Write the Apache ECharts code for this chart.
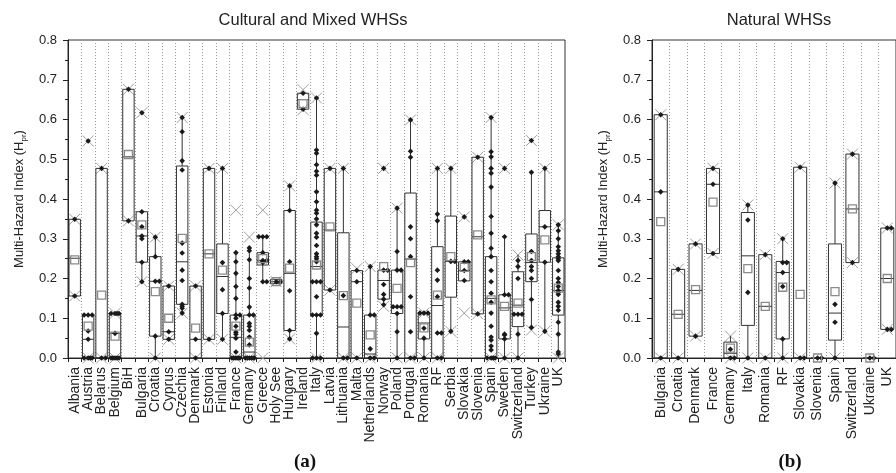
<!DOCTYPE html>
<html>
<head>
<meta charset="utf-8">
<script src="https://cdn.jsdelivr.net/npm/echarts@6/dist/echarts.min.js"></script>
<style>
  html, body { margin: 0; background: #fff; }
  #chart { width: 896px; height: 473px; }
</style>
</head>
<body>
<div id="chart"></div>
<script>
// (a) Cultural and Mixed WHSs
const countriesA = ['Albania', 'Austria', 'Belarus', 'Belgium', 'BiH', 'Bulgaria', 'Croatia', 'Cyprus', 'Czechia',
  'Denmark', 'Estonia', 'Finland', 'France', 'Germany', 'Greece', 'Holy See', 'Hungary', 'Ireland', 'Italy', 'Latvia',
  'Lithuania', 'Malta', 'Netherlands', 'Norway', 'Poland', 'Portugal', 'Romania', 'RF', 'Serbia', 'Slovakia',
  'Slovenia', 'Spain', 'Sweden', 'Switzerland', 'Turkey', 'Ukraine', 'UK'];
const q1A = [0.156, 0, 0, 0, 0.345, 0.241, 0.055, 0.047, 0.135, 0, 0.047, 0.112, 0, 0, 0.234, 0.187, 0.069, 0.626, 0.108,
  0.171, 0, 0, 0, 0.148, 0.112, 0, 0.048, 0, 0.153, 0.194, 0.111, 0, 0.048, 0.079, 0.192, 0.241, 0.108];
const medA = [0.251, 0.047, 0, 0.062, 0.506, 0.307, 0.193, 0.066, 0.242, 0.047, 0.262, 0.205, 0.052, 0.015, 0.245, 0.192,
  0.213, 0.65, 0.23, 0.322, 0.078, 0.192, 0.01, 0.195, 0.129, 0.249, 0.088, 0.132, 0.243, 0.22, 0.305, 0.15, 0.126,
  0.133, 0.24, 0.33, 0.17];
const q3A = [0.349, 0.108, 0.477, 0.112, 0.676, 0.368, 0.255, 0.181, 0.483, 0.181, 0.477, 0.287, 0.108, 0.108, 0.265,
  0.198, 0.371, 0.666, 0.342, 0.477, 0.315, 0.22, 0.108, 0.221, 0.221, 0.415, 0.113, 0.28, 0.357, 0.242, 0.505, 0.255,
  0.159, 0.217, 0.312, 0.371, 0.252];
const meanA = [0.247, 0.08, 0.158, 0.055, 0.512, 0.335, 0.167, 0.1, 0.301, 0.075, 0.262, 0.221, 0.08, 0.04, 0.25, 0.192,
  0.226, 0.64, 0.234, 0.33, 0.157, 0.138, 0.058, 0.23, 0.175, 0.24, 0.076, 0.158, 0.255, 0.228, 0.31, 0.146, 0.13,
  0.138, 0.255, 0.297, 0.176];
const whiskLoA = [0.156, 0, 0, 0, 0.345, 0.192, 0, 0.047, 0.113, 0, 0.047, 0.047, 0, 0, 0.192, 0.187, 0.048, 0.626, 0,
  0.171, 0, 0, 0, 0.134, 0, 0, 0, 0, 0.067, 0.194, 0.111, 0, 0, 0, 0.07, 0.067, 0];
const whiskHiA = [0.349, 0.108, 0.477, 0.112, 0.676, 0.368, 0.304, 0.181, 0.605, 0.181, 0.477, 0.477, 0.265, 0.277,
  0.305, 0.198, 0.433, 0.666, 0.654, 0.477, 0.477, 0.22, 0.23, 0.221, 0.377, 0.599, 0.113, 0.477, 0.477, 0.242, 0.505,
  0.605, 0.305, 0.259, 0.47, 0.477, 0.335];
const extLoA = [0.156, 0, 0, 0, 0.345, 0.192, 0, 0.047, 0.113, 0, 0.047, 0.047, 0, 0, 0, 0.192, 0.048, 0.625, 0, 0.171,
  0, 0, 0, 0.13, 0, 0, 0, 0, 0.067, 0.113, 0.111, 0, 0, 0, 0.07, 0.067, 0];
const extHiA = [0.349, 0.546, 0.477, 0.112, 0.676, 0.617, 0.304, 0.181, 0.605, 0.181, 0.477, 0.477, 0.372, 0.304, 0.372,
  0.192, 0.433, 0.675, 0.654, 0.477, 0.477, 0.225, 0.23, 0.477, 0.377, 0.599, 0.113, 0.477, 0.477, 0.355, 0.505, 0.605,
  0.477, 0.259, 0.547, 0.477, 0.335];
const pointsA = [
  [0.349, 0.156],
  [0.546, 0.108, 0.108, 0.108, 0.068, 0.047, 0, 0, 0, 0],
  [0.477, 0, 0],
  [0.112, 0.112, 0.112, 0.112, 0.062, 0, 0, 0, 0, 0],
  [0.676, 0.345],
  [0.617, 0.368, 0.33, 0.307, 0.3, 0.241, 0.192],
  [0.304, 0.255, 0.193, 0.193, 0.055, 0],
  [0.181, 0.066, 0.047],
  [0.605, 0.569, 0.496, 0.473, 0.289, 0.264, 0.221, 0.195, 0.135, 0.13, 0.125, 0.113],
  [0.181, 0.047, 0],
  [0.477, 0.047],
  [0.477, 0.24, 0.172, 0.112, 0.047],
  [0.265, 0.242, 0.213, 0.18, 0.15, 0.108, 0.108, 0.1, 0.08, 0.065, 0.06, 0.05, 0.015, 0, 0, 0, 0, 0],
  [0.277, 0.27, 0.247, 0.2, 0.176, 0.128, 0.108, 0.108, 0.087, 0.08, 0.07, 0.053, 0.033, 0, 0, 0, 0, 0, 0],
  [0.305, 0.305, 0.305, 0.265, 0.245, 0.245, 0.242, 0.24, 0.192, 0.192],
  [0.192, 0.192],
  [0.433, 0.371, 0.242, 0.169, 0.069, 0.048],
  [0.666, 0.626],
  [0.654, 0.523, 0.515, 0.486, 0.47, 0.46, 0.418, 0.393, 0.372, 0.364, 0.35, 0.335, 0.314, 0.304, 0.283, 0.262, 0.255,
    0.25, 0.242, 0.192, 0.192, 0.192, 0.154, 0.108, 0.108, 0.108, 0.062, 0, 0, 0],
  [0.477, 0.171],
  [0.477, 0.157, 0, 0],
  [0.22, 0.192, 0],
  [0.23, 0.108, 0.108, 0.023, 0, 0],
  [0.477, 0.221, 0.221, 0.185, 0.16, 0.148, 0.134],
  [0.377, 0.268, 0.221, 0.221, 0.129, 0.129, 0.129, 0.112, 0.066, 0],
  [0.599, 0.52, 0.505, 0.33, 0.3, 0.255, 0.154, 0.066, 0, 0],
  [0.113, 0.113, 0.113, 0.075, 0.05, 0],
  [0.477, 0.362, 0.345, 0.221, 0.196, 0.154, 0.063, 0.063, 0, 0],
  [0.477, 0.243, 0.243, 0.067],
  [0.355, 0.242, 0.242, 0.22, 0.195],
  [0.505, 0.111],
  [0.605, 0.519, 0.506, 0.477, 0.465, 0.43, 0.356, 0.314, 0.276, 0.255, 0.22, 0.192, 0.163, 0.14, 0.113, 0.08, 0.053,
    0.045, 0.03, 0.02, 0, 0, 0, 0],
  [0.477, 0.305, 0.159, 0.159, 0.06, 0.058, 0.048, 0],
  [0.245, 0.23, 0.2, 0.11, 0.11, 0.11, 0.06, 0],
  [0.547, 0.467, 0.268, 0.245, 0.23, 0.22, 0.2, 0.147, 0.077],
  [0.477, 0.33, 0.241, 0.067],
  [0.335, 0.32, 0.3, 0.28, 0.27, 0.262, 0.255, 0.25, 0.245, 0.22, 0.2, 0.19, 0.18, 0.17, 0.165, 0.16, 0.14, 0.13, 0.12,
    0.09, 0.06, 0.015, 0.01]
];

// (b) Natural WHSs
const countriesB = ['Bulgaria', 'Croatia', 'Denmark', 'France', 'Germany', 'Italy', 'Romania', 'RF', 'Slovakia',
  'Slovenia', 'Spain', 'Switzerland', 'Ukraine', 'UK'];
const q1B = [0, 0, 0.055, 0.263, 0, 0.082, 0, 0.048, 0, 0, 0.045, 0.24, 0, 0.072];
const medB = [0.418, 0.11, 0.17, 0.437, 0.012, 0.257, 0.13, 0.215, 0, 0, 0.113, 0.375, 0, 0.2];
const q3B = [0.612, 0.223, 0.287, 0.477, 0.04, 0.366, 0.26, 0.243, 0.48, 0, 0.287, 0.513, 0, 0.327];
const meanB = [0.343, 0.11, 0.172, 0.392, 0.025, 0.225, 0.13, 0.178, 0.16, 0, 0.167, 0.375, 0, 0.2];
const whiskLoB = [0, 0, 0.055, 0.263, 0, 0, 0, 0, 0, 0, 0, 0.24, 0, 0.072];
const whiskHiB = [0.612, 0.223, 0.287, 0.477, 0.055, 0.385, 0.26, 0.3, 0.48, 0, 0.44, 0.513, 0, 0.327];
const extLoB = [0, 0, 0.055, 0.263, 0, 0, 0, 0, 0, null, 0, 0.24, null, 0.072];
const extHiB = [0.612, 0.223, 0.287, 0.477, 0.055, 0.385, 0.26, 0.3, 0.48, null, 0.44, 0.513, null, 0.327];
const pointsB = [
  [0.612, 0.418, 0], [0.223, 0], [0.287, 0.055], [0.477, 0.437, 0.263], [0.022, 0, 0], [0.385, 0.347, 0.165, 0],
  [0.26, 0], [0.3, 0.24, 0.24, 0.215, 0.18, 0.048, 0], [0.48, 0, 0], [0, 0], [0.44, 0.135, 0.09, 0], [0.513, 0.24],
  [0, 0], [0.327, 0.327, 0.072, 0.072]
];

const yTicks = [0, 0.1, 0.2, 0.3, 0.4, 0.5, 0.6, 0.7, 0.8];

const chart = echarts.init(document.getElementById('chart'));

// build series data
let boxData = (q1, med, q3, lo, hi) => q1.map((v, i) => [i, v, med[i], q3[i], lo[i], hi[i]]);
let extData = (lo, hi) => {
  let out = [];
  lo.forEach((v, i) => {
    if (v !== null) out.push([i, v]);
    if (hi[i] !== null && hi[i] !== v) out.push([i, hi[i]]);
  });
  return out;
};
// repeated values get nudged sideways so they don't stack on one spot
let pointData = (pts) => {
  let out = [];
  pts.forEach((list, i) => {
    let seen = {};
    list.forEach(v => {
      let k = seen[v] || 0;
      seen[v] = k + 1;
      out.push([i, v, k]);
    });
  });
  return out;
};
const spread = [0, 4, -4, 2, -2, 5, -5, 1, -1, 3, -3, 0];

let renderBox = (frac) => (params, api) => {
  let c = api.value(0);
  let pLo = api.coord([c, api.value(1)]);
  let pMed = api.coord([c, api.value(2)]);
  let pHi = api.coord([c, api.value(3)]);
  let pWl = api.coord([c, api.value(4)]);
  let pWh = api.coord([c, api.value(5)]);
  let w = api.size([1, 0])[0] * frac;
  let x = pLo[0] - w / 2;
  let st = {stroke: '#333', fill: 'none', lineWidth: 1};
  return {
    type: 'group',
    children: [
      {type: 'line', shape: {x1: pLo[0], y1: pHi[1], x2: pLo[0], y2: pWh[1]}, style: st},
      {type: 'line', shape: {x1: pLo[0], y1: pLo[1], x2: pLo[0], y2: pWl[1]}, style: st},
      {type: 'rect', shape: {x: x, y: pHi[1], width: w, height: Math.max(pLo[1] - pHi[1], 0.5)}, style: st},
      {type: 'line', shape: {x1: x, y1: pMed[1], x2: x + w, y2: pMed[1]}, style: st}
    ]
  };
};

let renderCross = (params, api) => {
  let p = api.coord([api.value(0), api.value(1)]);
  let r = 5.5;
  return {
    type: 'group',
    children: [
      {type: 'line', shape: {x1: p[0] - r, y1: p[1] - r, x2: p[0] + r, y2: p[1] + r}, style: {stroke: '#a0a0a0', lineWidth: 1}},
      {type: 'line', shape: {x1: p[0] - r, y1: p[1] + r, x2: p[0] + r, y2: p[1] - r}, style: {stroke: '#a0a0a0', lineWidth: 1}}
    ]
  };
};

let renderMean = (params, api) => {
  let p = api.coord([api.value(0), api.value(1)]);
  return {
    type: 'rect',
    shape: {x: p[0] - 4, y: p[1] - 4, width: 8, height: 8},
    style: {stroke: '#8a8a8a', fill: 'none', lineWidth: 1.3}
  };
};

let renderPoint = (params, api) => {
  let p = api.coord([api.value(0), api.value(1)]);
  let dx = spread[api.value(2) % spread.length];
  let x = p[0] + dx, y = p[1], r = 2.8;
  return {
    type: 'polygon',
    shape: {points: [[x, y - r], [x + r, y], [x, y + r], [x - r, y]]},
    style: {fill: '#1a1a1a'}
  };
};

let yAxisCommon = {
  type: 'value',
  min: 0,
  max: 0.8,
  interval: 0.1,
  name: '{a|Multi-Hazard Index (H}{s|pr}{a|)}',
  nameLocation: 'middle',
  nameRotate: 90,
  nameGap: 41,
  nameTextStyle: {
    rich: {
      a: {fontSize: 13, color: '#222', fontFamily: 'Liberation Sans', lineHeight: 16},
      s: {fontSize: 8, color: '#222', fontFamily: 'Liberation Sans', lineHeight: 16, padding: [9, 0, 0, 0]}
    }
  },
  axisLine: {show: true, lineStyle: {color: '#222'}},
  axisTick: {show: true, length: 5, lineStyle: {color: '#222'}},
  minorTick: {show: true, splitNumber: 2, length: 3, lineStyle: {color: '#222'}},
  splitLine: {show: false},
  axisLabel: {
    fontSize: 13, color: '#222', fontFamily: 'Liberation Sans', margin: 11,
    formatter: (v) => yTicks.includes(Math.round(v * 10) / 10) ? v.toFixed(1) : ''
  }
};

let xAxisCommon = {
  type: 'category',
  axisLine: {lineStyle: {color: '#222'}},
  axisTick: {show: true, length: 4, lineStyle: {color: '#222'}},
  splitLine: {show: true, lineStyle: {color: '#999', type: [1, 2]}},
  axisLabel: {interval: 0, rotate: 90, fontSize: 14, color: '#222', fontFamily: 'Liberation Sans', margin: 9}
};

let option = {
  animation: false,
  backgroundColor: '#fff',
  grid: [
    {left: 68, top: 40, width: 497, height: 318, show: true, borderColor: '#333', borderWidth: 1},
    {left: 652, top: 40, width: 246, height: 318, show: true, borderColor: '#333', borderWidth: 1}
  ],
  xAxis: [
    Object.assign({}, xAxisCommon, {gridIndex: 0, data: countriesA}),
    Object.assign({}, xAxisCommon, {gridIndex: 1, data: countriesB})
  ],
  yAxis: [
    Object.assign({}, yAxisCommon, {gridIndex: 0}),
    Object.assign({}, yAxisCommon, {gridIndex: 1})
  ],
  graphic: [
    {type: 'text', x: 313, y: 20, style: {text: 'Cultural and Mixed WHSs', font: '16.5px "Liberation Sans"', fill: '#222', align: 'center', verticalAlign: 'middle'}},
    {type: 'text', x: 779, y: 20, style: {text: 'Natural WHSs', font: '16.5px "Liberation Sans"', fill: '#222', align: 'center', verticalAlign: 'middle'}},
    {type: 'text', x: 305, y: 462, style: {text: '(a)', font: 'bold 19px "Liberation Serif"', fill: '#111', align: 'center', verticalAlign: 'middle'}},
    {type: 'text', x: 790, y: 462, style: {text: '(b)', font: 'bold 19px "Liberation Serif"', fill: '#111', align: 'center', verticalAlign: 'middle'}}
  ],
  series: [
    {type: 'custom', name: 'extA', xAxisIndex: 0, yAxisIndex: 0, renderItem: renderCross, data: extData(extLoA, extHiA), encode: {x: 0, y: 1}},
    {type: 'custom', name: 'boxA', xAxisIndex: 0, yAxisIndex: 0, renderItem: renderBox(0.85), data: boxData(q1A, medA, q3A, whiskLoA, whiskHiA), encode: {x: 0, y: [1, 3]}},
    {type: 'custom', name: 'ptsA', xAxisIndex: 0, yAxisIndex: 0, renderItem: renderPoint, data: pointData(pointsA), encode: {x: 0, y: 1}},
    {type: 'custom', name: 'meanA', xAxisIndex: 0, yAxisIndex: 0, renderItem: renderMean, data: meanA.map((v, i) => [i, v]), encode: {x: 0, y: 1}},

    {type: 'custom', name: 'extB', xAxisIndex: 1, yAxisIndex: 1, renderItem: renderCross, data: extData(extLoB, extHiB), encode: {x: 0, y: 1}},
    {type: 'custom', name: 'boxB', xAxisIndex: 1, yAxisIndex: 1, renderItem: renderBox(0.75), data: boxData(q1B, medB, q3B, whiskLoB, whiskHiB), encode: {x: 0, y: [1, 3]}},
    {type: 'custom', name: 'ptsB', xAxisIndex: 1, yAxisIndex: 1, renderItem: renderPoint, data: pointData(pointsB), encode: {x: 0, y: 1}},
    {type: 'custom', name: 'meanB', xAxisIndex: 1, yAxisIndex: 1, renderItem: renderMean, data: meanB.map((v, i) => [i, v]), encode: {x: 0, y: 1}}
  ]
};

chart.setOption(option);
</script>
</body>
</html>
